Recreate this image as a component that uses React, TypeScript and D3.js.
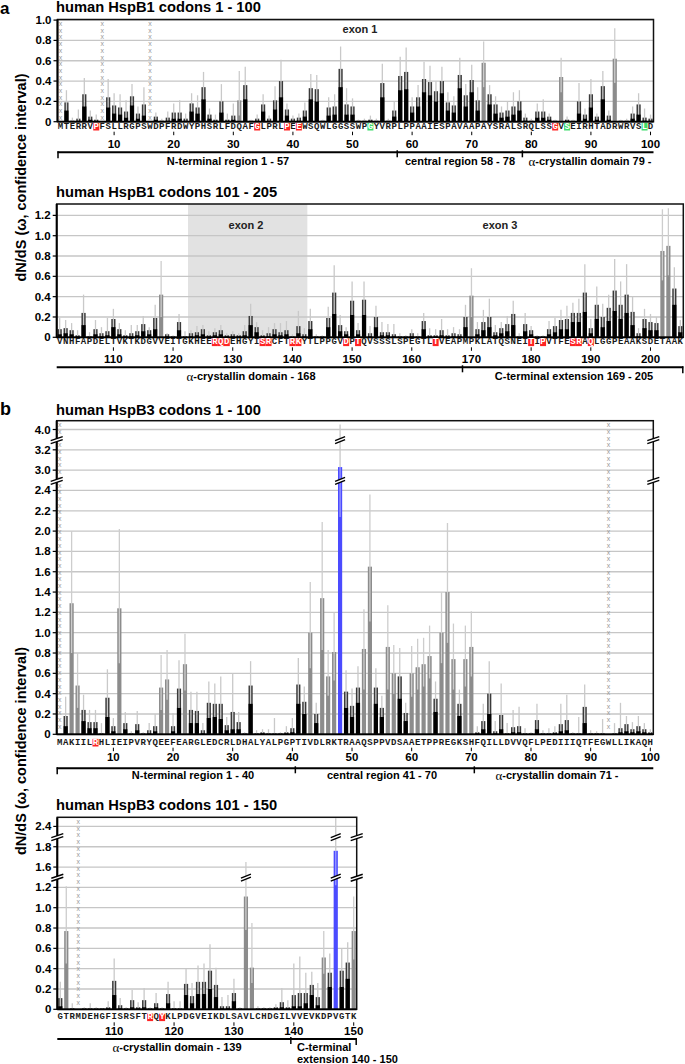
import React from "react";
import * as d3 from "d3";

// ---------------- DATA ----------------
// HspB1 codons 1-100
const A1_SEQ = "MTERRVPFSLLRGPSWDPFRDWYPHSRLFDQAFGLPRLPEEWSQWLGGSSWPGYVRPLPPAAIESPAVAAPAYSRALSRQLSSGVSEIRHTADRWRVSLD";
const A1_KIND = "xbbbbbbxbb" + "bbbbbxbbbb" + "bbbbbbbbbb" + "gbbbbbbbbb" + "bbbbbbbbbb" + "bbbbbbbbbb" + "bbbbbbbbbb" + "bgbbbbbbbb" + "bbbbgbbbbb" + "bbbgbbbbbb";
const A1_OMEGA = [null,.19,.01,.03,.27,.05,.02,null,.24,.16, .14,.10,.25,.08,.17,null,.05,.01,.04,.09, .09,.03,.18,.14,.34,.07,.02,.20,.02,.06, .21,.36,.01,.03,.17,.03,.21,.40,.12,.03, .04,.11,.33,.32,.01,.14,.15,.52,.17,.15, .01,.01,.02,.01,.38,.01,.11,.45,.49,.15, .24,.42,.39,.30,.40,.19,.16,.46,.26,.41, .21,.58,.27,.17,.09,.11,.15,.20,.04,.01, .10,.10,.05,.01,.44,.02,.01,.20,.07,.27, .05,.35,.06,.62,.01,.01,.08,.17,.04,.03];
const A1_LOW = [null,.11,0,.01,.15,.02,.01,null,.14,.08, .07,.04,.16,.03,.06,null,.02,0,.01,.03, .03,.01,.10,.08,.22,.03,.01,.09,.01,.02, .06,.22,0,.01,.10,.01,.12,.24,.06,.01, .01,.05,.22,.20,0,.06,.07,.34,.07,.07, 0,0,.01,0,.24,0,.05,.31,.32,.09, .15,.29,.26,.20,.28,.11,.09,.33,.15,.29, .11,.34,.17,.08,.04,.05,.07,.11,.01,0, .04,.04,.02,0,.29,.01,0,.08,.03,.14, .02,.22,.02,.38,0,0,.03,.07,.01,.01];
const A1_HIGH = [null,.31,.04,.12,.43,.11,.07,null,.42,.28, .27,.21,.37,.15,.34,null,.09,.03,.10,.18, .21,.08,.28,.26,.49,.13,.07,.37,.08,.18, .50,.54,.02,.07,.27,.06,.35,.61,.18,.06, .08,.19,.47,.46,.02,.24,.27,.74,.33,.23, .02,.03,.06,.03,.57,.03,.20,.64,.73,.24, .36,.59,.55,.40,.54,.29,.25,.63,.37,.56, .34,.79,.36,.25,.15,.20,.29,.31,.08,.03, .18,.22,.08,.02,.63,.05,.02,.38,.13,.42, .08,.50,.11,.92,.02,.03,.15,.28,.13,.07];
const A1_RED = [7, 34, 39, 41, 84];
const A1_GREEN = [53, 86, 99];

// HspB1 codons 101-205
const A2_SEQ = "VNHFAPDELTVKTKDGVVEITGKHEERQDEHGYISRCFTRKYTLPPGVDPTQVSSSLSPEGTLTVEAPMPKLATQSNEITIPVTFESRAQLGGPEAAKSDETAAK";
const A2_KIND = "bbbbbbbbbb" + "bbbbbbbgbb" + "bbbbbbbbbb" + "bbbbbbbbbb" + "bbbbbbbbbb" + "bbbbbbbbbb" + "bbbbbbbbbg" + "bbbbbbbbbb" + "bbbbbbbbbb" + "bbbbbbbbbb" + "bggbb";
const A2_OMEGA = [.08,.09,.07,.02,.24,.01,.08,.04,.06,.18, .08,.02,.04,.06,.13,.07,.19,.42,.03,.01, .15,.01,.04,.05,.08,.02,.05,.07,.02,.03, .02,.06,.21,.10,.02,.04,.08,.05,.07,.01, .11,.03,.16,.01,.01,.19,.44,.12,.06,.36, .07,.37,.04,.20,.05,.05,.03,.01,.01,.04, .01,.16,.02,.02,.07,.02,.04,.03,.20,.41, .08,.15,.20,.05,.09,.13,.23,.01,.13,.07, .01,.01,.08,.11,.17,.18,.24,.24,.44,.09, .32,.20,.29,.46,.32,.42,.25,.04,.18,.15, .14,.85,.90,.48,.11];
const A2_LOW = [.03,.04,.03,.01,.12,0,.03,.01,.02,.10, .03,.01,.01,.02,.06,.03,.08,.20,.01,0, .07,0,.01,.02,.03,.01,.02,.03,.01,.01, .01,.02,.12,.05,.01,.01,.03,.02,.03,0, .04,.01,.08,0,0,.10,.23,.06,.03,.22, .03,.22,.01,.10,.02,.02,.01,0,0,.01, 0,.08,.01,.01,.02,.01,.01,.01,.10,.20, .03,.07,.10,.02,.04,.06,.12,0,.06,.03, 0,0,.03,.05,.08,.08,.15,.15,.25,.04, .18,.10,.16,.26,.18,.24,.12,.01,.09,.07, .07,.56,.61,.32,.05];
const A2_HIGH = [.19,.17,.14,.07,.42,.05,.17,.10,.19,.28, .14,.07,.12,.12,.21,.10,.32,.75,.04,.02, .23,.06,.07,.11,.12,.06,.09,.12,.04,.06, .04,.12,.33,.15,.07,.10,.14,.14,.16,.03, .26,.09,.28,.03,.02,.30,.71,.22,.10,.55, .14,.55,.11,.31,.15,.13,.13,.04,.02,.08, .04,.24,.09,.08,.18,.08,.10,.08,.32,.68, .15,.27,.38,.12,.15,.21,.36,.04,.24,.11, .02,.02,.16,.19,.27,.31,.34,.38,.72,.18, .50,.33,.42,.77,.55,.72,.40,.09,.28,.23, .20,1.26,1.27,.69,.17];
const A2_RED = [127, 128, 129, 135, 136, 140, 141, 149, 151, 164, 180, 182, 187, 188, 190];

// HspB3 codons 1-100
const B1_SEQ = "MAKIILRHLIEIPVRYQEEFEARGLEDCRLDHALYALPGPTIVDLRKTRAAQSPPVDSAAETPPREGKSHFQILLDVVQFLPEDIIIQTFEGWLLIKAQH";
const B1_KIND = "xbggbbbbbb" + "gbbbbbbggb" + "bgbbbbbbbb" + "bbbbbbbbbb" + "bbgbgggubb" + "bggbbggbbg" + "gggbgggbgg" + "bbbbbbbbbb" + "bbbbbbbbbb" + "bbxbbbbbbb";
const B1_OMEGA = [null,.18,1.29,.48,.24,.12,.12,.01,.36,.08, 1.24,.11,.01,.10,.01,.04,.08,.46,.54,.08, .45,.69,.24,.23,.04,.31,.30,.30,.09,.22, .12,.01,.48,.01,.02,.01,.01,.01,.02,.06, .49,.32,1.00,.20,1.34,.57,.81,3.03,.42,.28, .46,.84,1.65,.46,.26,.86,.60,.57,.21,.60, .66,.69,.77,.35,1.00,1.40,.74,.30,.74,.86, .02,.13,.40,.03,.19,.01,.07,.08,.01,.01, .14,.01,.01,.02,.10,.14,.01,.01,.27,.01, .01,.01,null,.01,.06,.10,.05,.08,.05,.02];
const B1_LOW = [null,.08,.80,.26,.13,.06,.06,0,.17,.03, .70,.05,0,.04,0,.01,.03,.24,.34,.03, .26,.43,.11,.11,.01,.16,.17,.15,.04,.05, .05,0,.30,0,.01,0,0,0,.01,.02, .30,.20,.65,.11,.83,.38,.53,2.14,.26,.17, .31,.44,1.11,.30,.17,.44,.40,.35,.13,.37, .44,.47,.55,.22,.70,.90,.44,.18,.47,.57, .01,.05,.20,.01,.05,0,.02,.02,0,0, .05,0,0,.01,.03,.04,0,0,.11,0, 0,0,null,0,.02,.03,.02,.03,.02,.01];
const B1_HIGH = [null,.37,2.00,.80,.39,.24,.24,.11,.64,.16, 2.02,.22,.03,.23,.02,.11,.20,.78,.83,.21, .73,.99,.42,.42,.11,.52,.50,.57,.17,.60, .22,.02,.72,.04,.05,.05,.16,.02,.08,.16, .75,.47,1.50,.31,2.09,.83,1.20,4.05,.63,.45, .67,1.23,2.36,.65,.38,1.27,.88,.85,.31,.87, .94,.95,1.07,.52,1.40,2.08,1.09,.44,1.07,1.21, .08,.30,.72,.13,.50,.11,.24,.27,.06,.02, .30,.04,.06,.08,.30,.39,.02,.17,.49,.04, .03,.15,null,.11,.31,.18,.12,.18,.11,.05];
const B1_RED = [7];

// HspB3 codons 101-150
const B2_SEQ = "GTRMDEHGFISRSFTRQYKLPDGVEIKDLSAVLCHDGILVVEVKDPVGTK";
const B2_KIND = "bgbxbbbbbb" + "bbbbbbbbbb" + "bbbbbbbbbb" + "bggbbbbbbb" + "bbbbgbubbg";
const B2_OMEGA = [.11,.77,.01,null,.01,.01,.01,.01,.02,.28, .04,.01,.09,.02,.09,.01,.06,.01,.15,.01, .01,.25,.13,.27,.27,.38,.24,.03,.03,.16, .01,1.11,.41,.01,.01,.01,.02,.07,.02,.14, .16,.16,.24,.12,.51,.36,1.76,.38,.46,.77];
const B2_LOW = [.03,.45,0,null,0,0,0,0,.01,.14, .01,0,.02,.01,.02,0,.02,0,.06,0, 0,.14,.06,.15,.15,.20,.12,.01,.01,.08, 0,.78,.26,0,0,0,.01,.02,.01,.03, .03,.06,.14,.04,.35,.22,1.24,.22,.30,.49];
const B2_HIGH = [.27,1.22,.06,null,.02,.06,.02,.01,.08,.50, .11,.02,.19,.07,.21,.02,.16,.02,.27,.08, .08,.40,.26,.43,.45,.64,.41,.12,.14,.30, .02,1.65,.85,.03,.02,.02,.05,.21,.09,.45, .52,.36,.37,.26,.77,.55,2.48,.60,.66,1.11];
const B2_RED = [116, 118];

// axis ticks
const A1_TICKS = [0, 0.2, 0.4, 0.6, 0.8, 1.0];
const A2_TICKS = [0, 0.2, 0.4, 0.6, 0.8, 1.0, 1.2];
const B1_TICKS = [0, 0.2, 0.4, 0.6, 0.8, 1.0, 1.2, 1.4, 1.6, 1.8, 2.0, 2.2, 2.4, 3.0, 3.2, 4.0];
const B2_TICKS = [0, 0.2, 0.4, 0.6, 0.8, 1.0, 1.2, 1.6, 1.8, 2.4];

// ---------------- LAYOUT ----------------
const SANS = "'Liberation Sans', Arial, Helvetica, sans-serif";
const MONO = "'Liberation Mono', 'DejaVu Sans Mono', monospace";
const SERIF = "'Liberation Serif', 'DejaVu Serif', serif";
const GRID = "#c6c6c6";
const U = 101.6; // px per unit of omega

type Region = { text: string; x: number; y?: number; anchor?: string };
type Cfg = {
  first: number; last: number;
  xLeft: number; xRight: number; yTop: number; y0: number;
  yDom: number[]; yOff: number[];
  ticks: number[]; breaks: [number, number][];
  seq: string; kind: string; omega: (number | null)[]; low: (number | null)[]; high: (number | null)[];
  red: number[]; green: number[];
  letterY: number; numY: number; bracketY: number; labelY: number;
  leftEndTick: boolean; rightEndTick: boolean; dividers: number[];
  regions: Region[];
  shade?: [number, number];
  exons: { text: string; x: number; y: number }[];
};

function Label({ r }: { r: Region }) {
  const parts = r.text.split("α");
  return (
    <text x={r.x} y={r.y} textAnchor={r.anchor || "middle"} dominantBaseline="central" fontFamily={SANS} fontWeight="bold" fontSize={11}>
      {parts.length > 1 ? (
        <>
          <tspan fontFamily={SERIF} fontWeight="normal" fontSize={13}>α</tspan>
          {parts[1]}
        </>
      ) : r.text}
    </text>
  );
}

function BreakMark({ x, y, w = 6 }: { x: number; y: number; w?: number }) {
  return (
    <g>
      <polygon points={`${x - w},${y + 1} ${x + w},${y - 3} ${x + w},${y} ${x - w},${y + 4}`} fill="#fff" />
      <line x1={x - w} y1={y + 1} x2={x + w} y2={y - 3} stroke="#000" strokeWidth={1.4} />
      <line x1={x - w} y1={y + 4} x2={x + w} y2={y} stroke="#000" strokeWidth={1.4} />
    </g>
  );
}

function Panel({ cfg }: { cfg: Cfg }) {
  const xs = d3.scaleLinear().domain([cfg.first - 0.5, cfg.last + 0.5]).range([cfg.xLeft, cfg.xRight]);
  const ys = d3.scaleLinear().domain(cfg.yDom).range(cfg.yOff.map((o) => cfg.y0 - o));
  const n = cfg.last - cfg.first + 1;
  const step = (cfg.xRight - cfg.xLeft) / n;
  const bw = step * 0.7;
  const codons = d3.range(cfg.first, cfg.last + 1);
  const breakYs = cfg.breaks.map(([a, b]) => (ys(a) + ys(b)) / 2);

  const bars: React.ReactNode[] = [];
  codons.forEach((c, i) => {
    const k = cfg.kind[i];
    const cx = xs(c);
    if (k === "x") {
      const marks = d3.range(cfg.yTop + 4, cfg.y0 - 2, 6.7);
      bars.push(
        <g key={"x" + c}>
          {marks.map((yy, j) => (
            <text key={j} x={cx} y={yy} textAnchor="middle" dominantBaseline="central" fontFamily={SANS} fontSize={7} fill="#9a9a9a">x</text>
          ))}
        </g>
      );
      return;
    }
    const om = cfg.omega[i] as number;
    const lo = cfg.low[i] as number;
    const hi = cfg.high[i] as number;
    const yOm = ys(om), yLo = ys(lo), yHi = ys(hi);
    if (k === "b") {
      bars.push(
        <g key={c}>
          <rect x={cx - bw / 2} y={yOm} width={bw} height={cfg.y0 - yOm} fill="#3a3a3a" />
          <rect x={cx - bw / 2} y={yLo} width={bw} height={cfg.y0 - yLo} fill="#000" />
          <line x1={cx} x2={cx} y1={yLo} y2={yHi} stroke="#c9c9c9" strokeWidth={1.3} />
        </g>
      );
    } else if (k === "g") {
      bars.push(
        <g key={c}>
          <rect x={cx - bw / 2} y={yOm} width={bw} height={cfg.y0 - yOm} fill="#8c8c8c" />
          <line x1={cx} x2={cx} y1={yLo} y2={yHi} stroke="#cdcdcd" strokeWidth={1.3} />
        </g>
      );
    } else {
      bars.push(
        <g key={c}>
          <rect x={cx - bw / 2} y={yOm} width={bw} height={cfg.y0 - yOm} fill="#4b4bff" />
          <line x1={cx} x2={cx} y1={yLo} y2={yOm} stroke="#9c9cff" strokeWidth={1.3} />
          <line x1={cx} x2={cx} y1={yOm} y2={yHi} stroke="#c9c9c9" strokeWidth={1.3} />
        </g>
      );
    }
    breakYs.forEach((by, j) => {
      if (yHi < by - 2) bars.push(<BreakMark key={"bb" + c + "_" + j} x={cx} y={by} w={5} />);
    });
  });

  return (
    <g>
      {cfg.shade && (
        <rect x={xs(cfg.shade[0])} y={cfg.yTop} width={xs(cfg.shade[1]) - xs(cfg.shade[0])} height={cfg.y0 - cfg.yTop} fill="#e2e2e2" />
      )}
      {cfg.ticks.filter((t) => t > 0).map((t) => (
        <line key={"g" + t} x1={cfg.xLeft} x2={cfg.xRight} y1={ys(t)} y2={ys(t)} stroke={GRID} strokeWidth={1.3} />
      ))}
      {cfg.exons.map((e) => (
        <text key={e.text} x={e.x} y={e.y} textAnchor="middle" fontFamily={SANS} fontWeight="bold" fontSize={11} fill="#222">{e.text}</text>
      ))}
      {bars}
      <rect x={cfg.xLeft} y={cfg.yTop} width={cfg.xRight - cfg.xLeft} height={cfg.y0 - cfg.yTop} fill="none" stroke="#111" strokeWidth={1.5} />
      <line x1={cfg.xLeft} x2={cfg.xLeft} y1={cfg.yTop} y2={cfg.y0} stroke="#000" strokeWidth={2} />
      <line x1={cfg.xLeft} x2={cfg.xRight} y1={cfg.y0} y2={cfg.y0} stroke="#000" strokeWidth={1.8} />
      {cfg.ticks.map((t) => (
        <g key={"t" + t}>
          <line x1={cfg.xLeft - 4} x2={cfg.xLeft} y1={ys(t)} y2={ys(t)} stroke="#000" strokeWidth={1.2} />
          <text x={cfg.xLeft - 6} y={ys(t)} textAnchor="end" dominantBaseline="central" fontFamily={SANS} fontWeight="bold" fontSize={11.5}>
            {t === 0 ? "0" : t.toFixed(1)}
          </text>
        </g>
      ))}
      {breakYs.map((by, j) => (
        <g key={"ab" + j}>
          <BreakMark x={cfg.xLeft} y={by} />
          <BreakMark x={cfg.xRight} y={by} />
        </g>
      ))}
      {codons.map((c, i) => {
        const cx = xs(c);
        const isRed = cfg.red.includes(c);
        const isGreen = cfg.green.includes(c);
        return (
          <g key={"s" + c}>
            {(isRed || isGreen) && (
              <rect x={cx - 3} y={cfg.letterY - 3.8} width={6} height={7.6} fill={isRed ? "#ff2424" : "#3fdc6c"} />
            )}
            <text x={cx} y={cfg.letterY} textAnchor="middle" dominantBaseline="central" fontFamily={MONO} fontWeight="bold" fontSize={9} fill={isRed || isGreen ? "#fff" : "#1a1a1a"}>
              {cfg.seq[i]}
            </text>
          </g>
        );
      })}
      {codons.filter((c) => c % 10 === 0).map((c) => (
        <g key={"n" + c}>
          <line x1={xs(c)} x2={xs(c)} y1={cfg.letterY + 5} y2={cfg.letterY + 8.5} stroke="#000" strokeWidth={1} />
          <text x={xs(c)} y={cfg.numY} textAnchor="middle" dominantBaseline="central" fontFamily={SANS} fontWeight="bold" fontSize={11.5}>{c}</text>
        </g>
      ))}
      <line x1={cfg.xLeft} x2={cfg.xRight} y1={cfg.bracketY} y2={cfg.bracketY} stroke="#000" strokeWidth={2} />
      {cfg.leftEndTick && <line x1={cfg.xLeft + 0.5} x2={cfg.xLeft + 0.5} y1={cfg.bracketY - 1} y2={cfg.bracketY + 6} stroke="#000" strokeWidth={1.5} />}
      {cfg.rightEndTick && <line x1={cfg.xRight - 0.5} x2={cfg.xRight - 0.5} y1={cfg.bracketY - 1} y2={cfg.bracketY + 6} stroke="#000" strokeWidth={1.5} />}
      {cfg.dividers.map((d) => (
        <line key={"d" + d} x1={xs(d)} x2={xs(d)} y1={cfg.bracketY - 2} y2={cfg.bracketY + 5} stroke="#000" strokeWidth={1.5} />
      ))}
      {cfg.regions.map((r) => (
        <Label key={r.text} r={{ ...r, y: r.y ?? cfg.labelY }} />
      ))}
    </g>
  );
}

const PANELS: Cfg[] = [
  {
    first: 1, last: 100, xLeft: 57.5, xRight: 653.5, yTop: 19.5, y0: 121.7,
    yDom: [0, 1], yOff: [0, U], ticks: A1_TICKS, breaks: [],
    seq: A1_SEQ, kind: A1_KIND, omega: A1_OMEGA, low: A1_LOW, high: A1_HIGH, red: A1_RED, green: A1_GREEN,
    letterY: 126.7, numY: 144, bracketY: 152.3, labelY: 161,
    leftEndTick: true, rightEndTick: false, dividers: [57.5, 78.5],
    regions: [
      { text: "N-terminal region 1 - 57", x: 228 },
      { text: "central region  58 - 78", x: 460 },
      { text: "α-crystallin domain 79 -", x: 590 },
    ],
    exons: [{ text: "exon 1", x: 360, y: 33 }],
  },
  {
    first: 101, last: 205, xLeft: 56.7, xRight: 683.3, yTop: 204, y0: 337.3,
    yDom: [0, 1], yOff: [0, U], ticks: A2_TICKS, breaks: [],
    seq: A2_SEQ, kind: A2_KIND, omega: A2_OMEGA, low: A2_LOW, high: A2_HIGH, red: A2_RED, green: [],
    letterY: 342.3, numY: 359.3, bracketY: 367.3, labelY: 375.7,
    leftEndTick: false, rightEndTick: true, dividers: [168.5],
    regions: [
      { text: "α-crystallin domain - 168", x: 251 },
      { text: "C-terminal extension 169 - 205", x: 574 },
    ],
    shade: [122.5, 142.5],
    exons: [{ text: "exon 2", x: 246, y: 229 }, { text: "exon 3", x: 500, y: 229 }],
  },
  {
    first: 1, last: 100, xLeft: 56.7, xRight: 653.3, yTop: 420.7, y0: 734.3,
    yDom: [0, 2.4, 3.0, 3.2, 4.0, 4.2], yOff: [0, 2.4 * U, 2.6 * U, 2.8 * U, 3.0 * U, 3.2 * U],
    ticks: B1_TICKS, breaks: [[2.4, 3.0], [3.2, 4.0]],
    seq: B1_SEQ, kind: B1_KIND, omega: B1_OMEGA, low: B1_LOW, high: B1_HIGH, red: B1_RED, green: [],
    letterY: 742.7, numY: 756.7, bracketY: 768.3, labelY: 775,
    leftEndTick: true, rightEndTick: false, dividers: [40.5, 70.5],
    regions: [
      { text: "N-terminal region 1 - 40", x: 193 },
      { text: "central region 41 - 70", x: 382 },
      { text: "α-crystallin domain 71 -", x: 557 },
    ],
    exons: [],
  },
  {
    first: 101, last: 150, xLeft: 57.3, xRight: 356.7, yTop: 817.3, y0: 1009.3,
    yDom: [0, 1.2, 1.6, 1.8, 2.4, 2.6], yOff: [0, 1.2 * U, 1.4 * U, 1.6 * U, 1.8 * U, 2.0 * U],
    ticks: B2_TICKS, breaks: [[1.2, 1.6], [1.8, 2.4]],
    seq: B2_SEQ, kind: B2_KIND, omega: B2_OMEGA, low: B2_LOW, high: B2_HIGH, red: B2_RED, green: [],
    letterY: 1017.3, numY: 1030.7, bracketY: 1039, labelY: 1046.7,
    leftEndTick: false, rightEndTick: true, dividers: [139.5],
    regions: [
      { text: "α-crystallin domain - 139", x: 177 },
      { text: "C-terminal", x: 297, anchor: "start" },
      { text: "extension 140 - 150", x: 297, y: 1059, anchor: "start" },
    ],
    exons: [],
  },
];

const TITLES = [
  { text: "human HspB1 codons 1 - 100", y: 12 },
  { text: "human HspB1 codons 101 - 205", y: 196.7 },
  { text: "human HspB3 codons 1 - 100", y: 415 },
  { text: "human HspB3 codons 101 - 150", y: 809.5 },
];

export default function App() {
  return (
    <div style={{ position: "absolute", left: 0, top: 0 }}>
      <svg width={685} height={1064} style={{ display: "block", background: "#fff" }}>
        <text x={0} y={14} fontFamily={SANS} fontWeight="bold" fontSize={17}>a</text>
        <text x={0} y={415} fontFamily={SANS} fontWeight="bold" fontSize={18}>b</text>
        {TITLES.map((t) => (
          <text key={t.text} x={56} y={t.y} fontFamily={SANS} fontWeight="bold" fontSize={14.7}>{t.text}</text>
        ))}
        <text transform="translate(21,177.5) rotate(-90)" textAnchor="middle" dominantBaseline="central" fontFamily={SANS} fontWeight="bold" fontSize={14.5}>
          dN/dS (ω, confidence interval)
        </text>
        <text transform="translate(21,751) rotate(-90)" textAnchor="middle" dominantBaseline="central" fontFamily={SANS} fontWeight="bold" fontSize={14.5}>
          dN/dS (ω, confidence interval)
        </text>
        {PANELS.map((p, i) => (
          <Panel key={i} cfg={p} />
        ))}
      </svg>
    </div>
  );
}
